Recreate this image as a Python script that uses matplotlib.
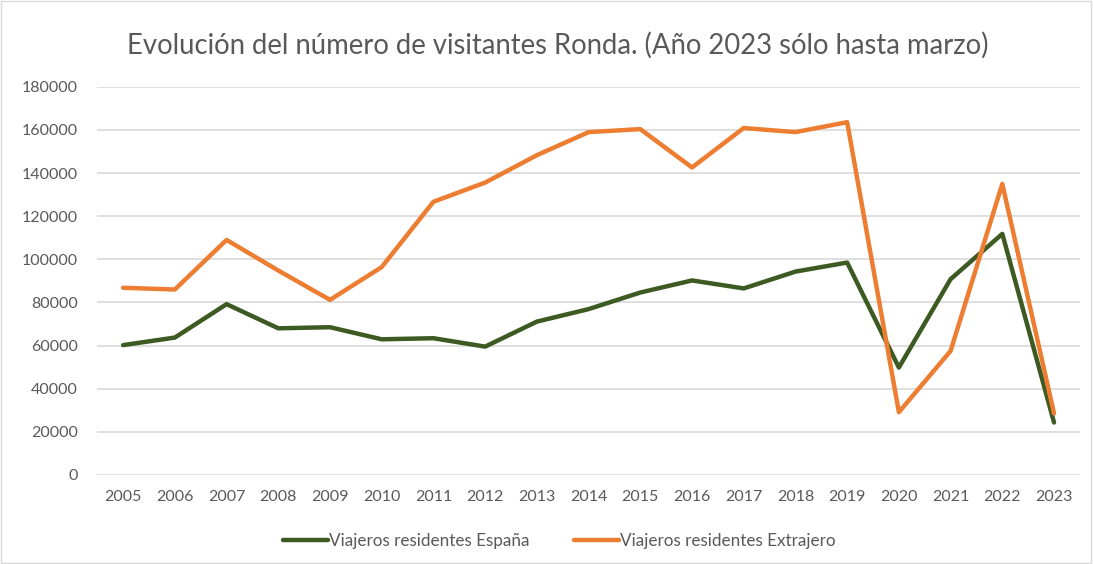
import matplotlib.pyplot as plt
from matplotlib.patches import Rectangle

plt.rcParams['font.family'] = ['Lato', 'DejaVu Sans']

years = [str(y) for y in range(2005, 2024)]
espana = [60200, 63700, 79200, 68000, 68500, 62900, 63400, 59500, 71100,
          76900, 84600, 90200, 86500, 94300, 98500, 49800, 90800, 111800, 24300]
extranjero = [86800, 86000, 109000, 94800, 81200, 96400, 126700, 135600, 148300,
              159000, 160400, 142600, 160900, 159000, 163600, 29100, 57500, 135000, 28500]
yticks = list(range(0, 180001, 20000))

grey = "#595959"

fig = plt.figure(figsize=(10.93, 5.64), dpi=100)
ax = fig.add_axes([0.089, 0.158, 0.899, 0.688])

x = range(len(years))
ax.plot(x, espana, color="#3d5a23", lw=3.2, label="Viajeros residentes España",
        solid_capstyle="round", solid_joinstyle="round")
ax.plot(x, extranjero, color="#ed7d31", lw=3.2, label="Viajeros residentes Extrajero",
        solid_capstyle="round", solid_joinstyle="round")

ax.set_xlim(-0.5, len(years) - 0.5)
ax.set_ylim(0, 180000)
ax.set_yticks(yticks)
ax.set_yticklabels([str(v) for v in yticks])
ax.set_xticks(list(x))
ax.set_xticklabels(years)
ax.tick_params(axis="both", length=0, colors=grey, labelsize=11.5)
ax.tick_params(axis="y", pad=14)
ax.tick_params(axis="x", pad=11)
ax.grid(axis="y", color="#d9d9d9", lw=1.2)
ax.set_axisbelow(True)
for side in ["left", "top", "right", "bottom"]:
    ax.spines[side].set_visible(False)

fig.text(0.51, 0.92, "Evolución del número de visitantes Ronda. (Año 2023 sólo hasta marzo)",
         ha="center", va="center", fontsize=19.8, color=grey)

fig.legend(loc="center", bbox_to_anchor=(0.512, 0.04), ncol=2, frameon=False,
           fontsize=12.3, labelcolor=grey, handlelength=2.6, handletextpad=0.1,
           columnspacing=2.6)

fig.patches.append(Rectangle((0.001, 0.002), 0.997, 0.996, transform=fig.transFigure,
                             fill=False, edgecolor="#d9d9d9", lw=1))

fig.savefig("out.png", dpi=100)
